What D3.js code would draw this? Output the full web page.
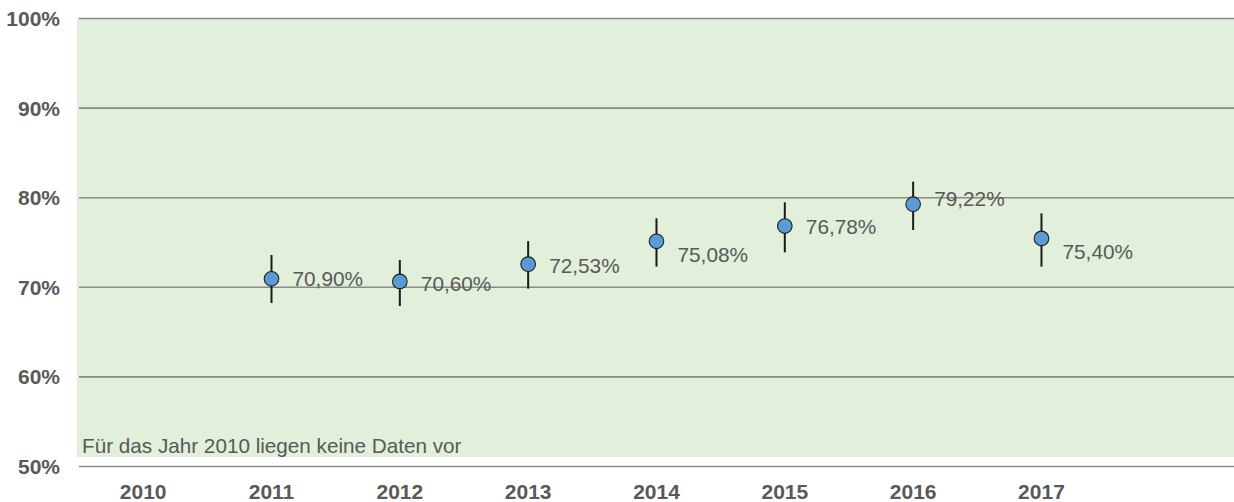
<!DOCTYPE html>
<html>
<head>
<meta charset="utf-8">
<script src="https://cdn.jsdelivr.net/npm/d3@7/dist/d3.min.js"></script>
<style>
  html, body { margin: 0; padding: 0; background: #ffffff; }
  svg { display: block; font-family: "Liberation Sans", Arial, sans-serif; }
</style>
</head>
<body>
<svg id="chart" width="1234" height="502"></svg>
<script>
// Category axis (2010 has no survey data)
const years = ["2010", "2011", "2012", "2013", "2014", "2015", "2016", "2017"];

// Measured shares with confidence interval bounds
const pointYears = ["2011", "2012", "2013", "2014", "2015", "2016", "2017"];
const values = [70.90, 70.60, 72.53, 75.08, 76.78, 79.22, 75.40];
const lower  = [68.19, 67.86, 69.80, 72.25, 73.85, 76.34, 72.24];
const upper  = [73.55, 72.99, 75.10, 77.65, 79.43, 81.73, 78.20];

// Y-axis ticks (percent)
const yTicks = [50, 60, 70, 80, 90, 100];

const noteText = "Für das Jahr 2010 liegen keine Daten vor";

// Layout
const W = 1234, H = 502;
const plotLeft = 79, plotTop = 18, plotBottom = 466;
const bandStep = 128.33;
const labelDy = [0, 2, 1.5, 13, 0, -5.5, 13.5];   // vertical nudge of value labels

const svg = d3.select("#chart");

const x = d3.scaleBand()
  .domain(years)
  .range([plotLeft, plotLeft + bandStep * years.length])
  .padding(0);

const y = d3.scaleLinear()
  .domain([50, 100])
  .range([plotBottom, plotTop]);

const cx = d => x(d) + x.bandwidth() / 2;

// Light green plot background
svg.append("rect")
  .attr("x", 77)
  .attr("y", y(100))
  .attr("width", W - 77)
  .attr("height", 457 - y(100))
  .attr("fill", "#e2efda");

// Horizontal gridlines + percent labels
const yAxis = d3.axisLeft(y)
  .tickValues(yTicks)
  .tickSize(-(W - plotLeft))
  .tickPadding(19)
  .tickFormat(d => d + "%");

const gy = svg.append("g")
  .attr("transform", `translate(${plotLeft},0)`)
  .call(yAxis);
gy.select(".domain").remove();
gy.selectAll(".tick line")
  .attr("stroke", "#8a8a8a")
  .attr("stroke-width", 1.6);
gy.selectAll(".tick text")
  .attr("fill", "#595959")
  .attr("font-size", "21px")
  .attr("font-weight", "bold")
  .attr("font-family", "'Liberation Sans', Arial, sans-serif")
  .attr("dy", "0.36em");

// Year labels
const xAxis = d3.axisBottom(x).tickSize(0).tickPadding(0);
const gx = svg.append("g")
  .attr("transform", `translate(0,${plotBottom})`)
  .call(xAxis);
gx.select(".domain").remove();
gx.selectAll(".tick text")
  .attr("fill", "#595959")
  .attr("font-size", "21px")
  .attr("font-weight", "bold")
  .attr("font-family", "'Liberation Sans', Arial, sans-serif")
  .attr("y", 0)
  .attr("dy", 33);

// Note about missing 2010 data
svg.append("text")
  .attr("x", 82)
  .attr("y", 453)
  .attr("fill", "#595959")
  .attr("font-size", "20.7px")
  .text(noteText);

const points = pointYears.map((yr, i) => ({
  year: yr, value: values[i], lo: lower[i], hi: upper[i], dy: labelDy[i]
}));

// Confidence interval whiskers
svg.append("g").selectAll("line")
  .data(points)
  .join("line")
  .attr("x1", d => cx(d.year))
  .attr("x2", d => cx(d.year))
  .attr("y1", d => y(d.hi))
  .attr("y2", d => y(d.lo))
  .attr("stroke", "#1a1a1a")
  .attr("stroke-width", 2);

// Point markers
svg.append("g").selectAll("circle")
  .data(points)
  .join("circle")
  .attr("cx", d => cx(d.year))
  .attr("cy", d => y(d.value))
  .attr("r", 7.3)
  .attr("fill", "#5b9bd5")
  .attr("stroke", "#1f1f1f")
  .attr("stroke-width", 1.1);

// Value labels
const fmt = d3.format(".2f");
svg.append("g").selectAll("text")
  .data(points)
  .join("text")
  .attr("x", d => cx(d.year) + 21)
  .attr("y", d => y(d.value) + d.dy + 7.5)
  .attr("fill", "#595959")
  .attr("font-size", "20.8px")
  .text(d => fmt(d.value).replace(".", ",") + "%");
</script>
</body>
</html>
